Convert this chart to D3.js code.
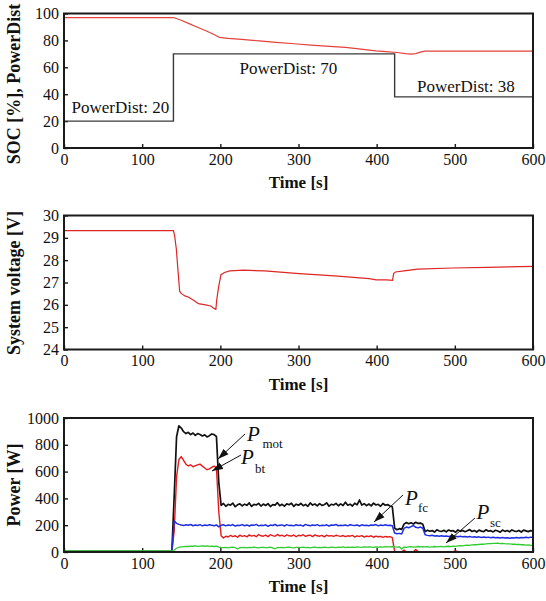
<!DOCTYPE html>
<html>
<head>
<meta charset="utf-8">
<script src="https://cdn.jsdelivr.net/npm/d3@7"></script>
<style>
  html, body { margin: 0; padding: 0; background: #fff; }
  svg text { font-family: "Liberation Serif", "Times New Roman", serif; fill: #111; }
</style>
</head>
<body>
<svg id="chart" width="546" height="601"></svg>
<script>
// ---- shared time axis ----
const timeTicks = [0, 100, 200, 300, 400, 500, 600];

// ---- panel 1: battery SOC and PowerDist setting ----
const socTicks = [0, 20, 40, 60, 80, 100];
const socTime  = [0, 140, 150, 160, 170, 180, 190, 199, 210, 227, 250, 271, 295, 316, 340, 360, 380, 399, 412, 426, 437, 444, 450, 457, 462, 600];
const socValue = [97, 97, 95, 92.5, 90, 87.6, 85, 82.2, 81.5, 80.7, 79.6, 78.5, 77.5, 76.5, 75.6, 74.8, 73.5, 72.2, 71.6, 71, 70.2, 69.8, 70.2, 71.5, 72, 72];
const distTime  = [0, 140, 423, 600];
const distValue = [20, 70, 38, 38];
const distLabels = ["PowerDist: 20", "PowerDist: 70", "PowerDist: 38"];

// ---- panel 2: DC bus voltage ----
const voltTicks = [24, 25, 26, 27, 28, 29, 30];
const voltTime  = [0, 140, 141.5, 143.7, 145.9, 148, 150.3, 154.7, 159, 165.7, 172, 181, 187.6, 192, 194.3, 195.3, 197.8, 200.8, 205.3, 212, 230, 256.7, 301, 346, 390.5, 399.4, 412.8, 420.3, 421.7, 424, 435, 452.6, 497, 541.6, 600];
const voltValue = [29.32, 29.32, 29.1, 28.5, 27.5, 26.6, 26.5, 26.4, 26.35, 26.2, 26.05, 26.0, 25.95, 25.84, 25.8, 26.2, 26.8, 27.35, 27.45, 27.52, 27.55, 27.52, 27.4, 27.3, 27.17, 27.12, 27.12, 27.1, 27.4, 27.47, 27.52, 27.6, 27.65, 27.68, 27.72];

// ---- panel 3: power flows, logged every 3 s from t = 138 s (plus t = 0) ----
const powTicks = [0, 200, 400, 600, 800, 1000];
const powStart = 138, powStep = 3;
const pMot = [4,
  5, 420, 860, 942, 925, 898, 884, 893, 876, 888, 870, 884, 877, 866, 874, 859, 868, 881, 876, 862, 520, 348,
  362, 341, 356, 349, 365, 338, 352, 360, 344, 357, 348, 366, 340, 355, 351, 363, 343, 358, 347, 361,
  339, 354, 350, 368, 345, 356, 342, 359, 353, 364, 340, 357, 349, 362, 346, 355, 341, 366, 350, 358,
  344, 361, 348, 353, 367, 342, 356, 351, 363, 345, 359, 347, 372, 349, 357, 343, 364, 352, 388, 350,
  361, 346, 358, 344, 365, 351, 356, 341, 362, 349, 354, 343, 338,
  178, 166, 174, 169, 208, 220, 211, 218, 209, 222, 213, 216, 207,
  152, 163, 155, 160, 149, 166, 157, 153, 162, 150, 164, 156, 159, 148, 165, 154, 161, 151, 158, 167,
  153, 160, 149, 163, 156, 152, 166, 155, 159, 150, 162, 157, 148, 164, 154, 160, 151, 165, 156, 153,
  161, 149, 163, 158, 152, 160, 155];
const pBt = [2,
  2, 160, 560, 690, 712, 684, 655, 642, 651, 636, 644, 650, 656, 641, 627, 614, 621, 632, 641, 630, 300, 122,
  104, 118, 112, 124, 115, 121, 110, 126, 117, 122, 113, 128, 119, 124, 114, 130, 121, 118, 126, 115,
  129, 122, 117, 131, 120, 125, 116, 128, 121, 119, 127, 114, 125, 120, 129, 117, 123, 126, 115, 128,
  121, 118, 124, 113, 126, 119, 122, 116, 125, 120, 117, 123, 114, 121, 118, 124, 112, 120, 116, 122,
  111, 119, 115, 121, 110, 118, 114, 117, 109, 116, 112, 115, 108,
  4, 2, 3, 1, 14, 2, 3, 1, 2, 18, 3, 2, 1,
  2, 1, 3, 2, 0, 2, 3, 1, 2, 2, 1, 3, 2, 9, 2, 1, 3, 2, 1, 2,
  3, 1, 2, 0, 2, 3, 1, 2, 2, 1, 3, 2, 1, 2, 3, 1, 2, 2, 1, 3,
  2, 1, 2, 2, 1, 3, 2];
const pFc = [2,
  2, 232, 214, 206, 201, 197, 203, 199, 205, 196, 202, 198, 204, 195, 201, 197, 203, 200, 196, 202, 188, 199,
  203, 195, 201, 197, 205, 193, 200, 198, 204, 196, 202, 194, 201, 199, 206, 195, 200, 197, 203, 192,
  201, 198, 205, 196, 199, 202, 194, 204, 197, 200, 195, 203, 198, 201, 193, 206, 199, 196, 202, 198,
  204, 195, 200, 197, 203, 194, 201, 199, 205, 196, 200, 198, 202, 195, 204, 199, 197, 201, 194, 203,
  198, 200, 196, 202, 199, 205, 195, 201, 197, 203, 198, 200, 196,
  142, 136, 139, 134, 176, 186, 181, 189, 198, 184, 180, 186, 177,
  128, 124, 121, 125, 119, 122, 118, 121, 117, 120, 116, 119, 115, 118, 114, 117, 113, 116, 112, 115,
  111, 114, 110, 113, 109, 112, 108, 111, 107, 110, 106, 109, 105, 108, 104, 107, 103, 106, 104, 108,
  105, 109, 106, 110, 107, 111, 108];
const pSc = [8,
  8, 15, 28, 34, 38, 40, 42, 41, 44, 43, 45, 42, 44, 46, 43, 45, 42, 44, 41, 43, 37, 34,
  33, 35, 31, 34, 36, 32, 22, 34, 33, 35, 31, 34, 32, 36, 33, 30, 34, 35, 32, 33,
  36, 31, 24, 34, 33, 35, 32, 34, 36, 33, 31, 35, 34, 32, 36, 33, 35, 31, 34, 37,
  33, 35, 32, 36, 34, 33, 37, 35, 32, 36, 34, 38, 33, 36, 35, 37, 34, 38, 36, 35,
  39, 36, 38, 37, 35, 39, 37, 38, 36, 40, 38, 39, 41,
  38, 36, 39, 22, 37, 35, 38, 40, 36, 39, 41, 38, 40,
  38, 40, 37, 39, 41, 38, 40, 42, 39, 41, 43, 40, 44, 42, 45, 47, 46, 49, 51, 50,
  53, 55, 54, 57, 59, 58, 61, 63, 62, 65, 64, 66, 63, 65, 62, 60, 61, 58, 59, 56,
  57, 54, 55, 52, 53, 50, 49];

// ---- layout ----
const svg = d3.select("#chart");
const x = d3.scaleLinear().domain([0, 600]).range([64, 533]);
const frameColor = "#1a1a1a";

const defs = svg.append("defs");
defs.append("marker")
  .attr("id", "arrowHead")
  .attr("viewBox", "0 -4 11 8")
  .attr("refX", 11).attr("refY", 0)
  .attr("markerUnits", "userSpaceOnUse")
  .attr("markerWidth", 11).attr("markerHeight", 8)
  .attr("orient", "auto")
  .append("path").attr("d", "M0,-3.6L11,0L0,3.6Z").attr("fill", "#111");

function panel(top, bottom, yDomain, yTicks, yTitle, titleY) {
  const y = d3.scaleLinear().domain(yDomain).range([bottom, top]);
  const g = svg.append("g");

  const gx = g.append("g").attr("transform", `translate(0,${bottom})`)
    .call(d3.axisBottom(x).tickValues(timeTicks).tickFormat(d3.format("d"))
      .tickSizeInner(-4).tickSizeOuter(0).tickPadding(5.6));
  const gy = g.append("g").attr("transform", `translate(${x(0)},0)`)
    .call(d3.axisLeft(y).tickValues(yTicks).tickFormat(d3.format("d"))
      .tickSizeInner(-4).tickSizeOuter(0).tickPadding(5));
  [gx, gy].forEach(a => {
    a.select(".domain").remove();
    a.selectAll("line").attr("stroke", frameColor).attr("stroke-width", 1.4);
    a.selectAll("text").attr("font-size", 16).attr("fill", "#111")
      .attr("font-family", "'Liberation Serif', 'Times New Roman', serif");
  });

  g.append("text")
    .attr("x", (x(0) + x(600)) / 2).attr("y", bottom + 40)
    .attr("text-anchor", "middle").attr("font-size", 17).attr("font-weight", "bold")
    .text("Time [s]");

  g.append("text")
    .attr("transform", `translate(20,${titleY}) rotate(-90)`)
    .attr("text-anchor", "middle").attr("font-size", 18).attr("font-weight", "bold")
    .text(yTitle);

  return { g, y, top, bottom };
}

function drawFrame(p) {
  p.g.append("rect")
    .attr("x", x(0)).attr("y", p.top)
    .attr("width", x(600) - x(0)).attr("height", p.bottom - p.top)
    .attr("fill", "none").attr("stroke", frameColor).attr("stroke-width", 2);
}

function pairs(ts, vs) { return ts.map((t, i) => [t, vs[i]]); }

// Panel 1
const p1 = panel(13.5, 148, [0, 100], socTicks, "SOC [%], PowerDist", 84);
p1.g.append("path").datum(pairs(distTime, distValue))
  .attr("d", d3.line().curve(d3.curveStepAfter).x(d => x(d[0])).y(d => p1.y(d[1])))
  .attr("fill", "none").attr("stroke", "#3a3a3a").attr("stroke-width", 1.4);
p1.g.append("path").datum(pairs(socTime, socValue))
  .attr("d", d3.line().x(d => x(d[0])).y(d => p1.y(d[1]))).attr("fill", "none")
  .attr("stroke", "#e4413c").attr("stroke-width", 1.2);
const distLabelPos = [[71.5, 113], [239.5, 73.5], [417, 92]];
distLabels.forEach((s, i) => {
  p1.g.append("text").attr("x", distLabelPos[i][0]).attr("y", distLabelPos[i][1])
    .attr("font-size", 17).text(s);
});
drawFrame(p1);

// Panel 2
const p2 = panel(215.5, 349.5, [24, 30], voltTicks, "System voltage [V]", 283);
p2.g.append("path").datum(pairs(voltTime, voltValue))
  .attr("d", d3.line().x(d => x(d[0])).y(d => p2.y(d[1]))).attr("fill", "none")
  .attr("stroke", "#de2626").attr("stroke-width", 1.2);
drawFrame(p2);

// Panel 3
const p3 = panel(418, 552, [0, 1000], powTicks, "Power [W]", 485);
const powTime = v => v.map((_, i) => i === 0 ? 0 : powStart + (i - 1) * powStep);
const line3 = d3.line().x(d => x(d[0])).y(d => p3.y(d[1]));
const series = [
  { v: pMot, c: "#111111", w: 1.7 },
  { v: pBt,  c: "#e51b1b", w: 1.4 },
  { v: pFc,  c: "#1f2fe0", w: 1.5 },
  { v: pSc,  c: "#2fcc2f", w: 1.3 }
];
series.forEach(s => {
  p3.g.append("path").datum(pairs(powTime(s.v), s.v))
    .attr("d", line3).attr("fill", "none")
    .attr("stroke", s.c).attr("stroke-width", s.w).attr("stroke-linejoin", "round");
});

// Series callouts
const callouts = [
  { sub: "mot", px: 247, py: 441,   sx: 262.5, sy: 447.5, a: [245, 434, 218, 459] },
  { sub: "bt",  px: 241, py: 463.5, sx: 255,   sy: 472.5, a: [241, 455, 212, 471] },
  { sub: "fc",  px: 405, py: 505,   sx: 418,   sy: 512,   a: [403, 495, 374, 522] },
  { sub: "sc",  px: 476.5, py: 518.5, sx: 490, sy: 527,   a: [475, 518, 446, 543] }
];
callouts.forEach(c => {
  p3.g.append("line")
    .attr("x1", c.a[0]).attr("y1", c.a[1]).attr("x2", c.a[2]).attr("y2", c.a[3])
    .attr("stroke", "#111").attr("stroke-width", 1).attr("marker-end", "url(#arrowHead)");
  p3.g.append("text").attr("x", c.px).attr("y", c.py)
    .attr("font-size", 21).attr("font-style", "italic").text("P");
  p3.g.append("text").attr("x", c.sx).attr("y", c.sy)
    .attr("font-size", 13).text(c.sub);
});
drawFrame(p3);
</script>
</body>
</html>
